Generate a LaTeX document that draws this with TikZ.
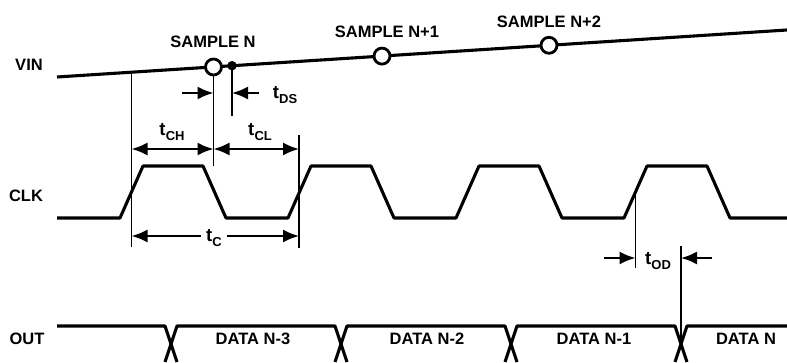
\documentclass[tikz,border=0pt]{standalone}
\usepackage{fontspec}
\setmainfont{Liberation Sans}
\usetikzlibrary{arrows.meta}
\newcommand{\tlab}[1]{t\kern0.2pt\raisebox{-0.5ex}{\fontsize{13}{13}\selectfont #1}}
\tikzset{
  wave/.style={line width=3.1pt, line join=round},
  thinline/.style={line width=1.1pt},
  dimarrow/.style={line width=2pt, -{Latex[length=16pt,width=13pt]}},
  dimboth/.style={line width=2pt, {Latex[length=16pt,width=13pt]}-{Latex[length=16pt,width=13pt]}},
  lbl/.style={font=\fontsize{16.5}{16.5}\selectfont\bfseries, inner sep=0pt},
  tl/.style={font=\fontsize{18.5}{18.5}\selectfont\bfseries, inner sep=1pt},
  smp/.style={circle, draw, line width=2.8pt, fill=white, minimum size=16pt, inner sep=0pt},
  dot/.style={circle, fill=black, minimum size=9.5pt, inner sep=0pt}
}
\begin{document}
\begin{tikzpicture}[x=1pt,y=-1pt]
\useasboundingbox (0,0) rectangle (787,363);
\clip (0,0) rectangle (787,363);
% ---------- VIN ----------
\node[lbl] (vinlab) at (29,65) {VIN};
\coordinate (v0) at (57,77);
\coordinate (v1) at (787,30);
\coordinate (vc) at (131.5,72.2);
\draw[wave] (v0) -- (v1);
\draw[thinline] (vc) -- (131.5,247);
\draw[thinline] (213.5,67) -- (213.5,166);
\draw[thinline] (232,70) -- (232,116);
\node[smp] (sn) at (213.5,67) {};
\node[dot] (sd) at (232,65.7) {};
\node[smp] (sn1) at (382,56.1) {};
\node[smp] (sn2) at (549,45.3) {};
\node[lbl] (lsn) at (213,42) {SAMPLE N};
\node[lbl] (lsn1) at (387,32) {SAMPLE N+1};
\node[lbl] (lsn2) at (549,22) {SAMPLE N+2};
% t_DS
\coordinate (dsa) at (182,93);
\coordinate (dsb) at (213.5,93);
\coordinate (dsc) at (259,93);
\coordinate (dsd) at (232,93);
\draw[dimarrow] (dsa) -- (dsb);
\draw[dimarrow] (dsc) -- (dsd);
\node[tl] (tds) at (285,95) {\tlab{DS}};
% ---------- CLK ----------
\node[lbl] (clklab) at (26,196) {CLK};
\draw[wave] (57,218) -- (120,218)
  \foreach \r in {120,288,456,624} {
    -- (\r,218) -- ({\r+23},166) -- ({\r+83},166) -- ({\r+106},218)
  } -- (787,218);
\draw[thinline] (299,135) -- (299,248);
\coordinate (cha) at (131.5,149);
\coordinate (chb) at (213.5,149);
\coordinate (clb) at (299,149);
\draw[dimboth] (cha) -- (chb);
\draw[dimboth] (chb) -- (clb);
\node[tl] (tch) at (172,132) {\tlab{CH}};
\node[tl] (tcl) at (260,132) {\tlab{CL}};
\coordinate (ca) at (131.5,236);
\coordinate (cb) at (299,236);
\draw[dimboth] (ca) -- (cb);
\node[tl, fill=white, inner xsep=5pt] (tc) at (214,238) {\tlab{C}};
% t_OD
\draw[thinline] (635.5,192) -- (635.5,268);
\draw[thinline] (681,246) -- (681,344);
\coordinate (oda) at (604,258);
\coordinate (odb) at (635.5,258);
\coordinate (odc) at (712,258);
\coordinate (odd) at (681,258);
\draw[dimarrow] (oda) -- (odb);
\draw[dimarrow] (odc) -- (odd);
\node[tl] (tod) at (658,261) {\tlab{OD}};
% ---------- OUT ----------
\node[lbl] (outlab) at (27,339) {OUT};
\draw[wave] (57,326) -- (165,326) -- (177,362);
\draw[wave] (165,362) -- (177,326) -- (335,326) -- (347,362);
\draw[wave] (335,362) -- (347,326) -- (505,326) -- (517,362);
\draw[wave] (505,362) -- (517,326) -- (675,326) -- (687,362);
\draw[wave] (675,362) -- (687,326) -- (787,326);
\draw[wave] (57,364.5) -- (787,364.5);
\node[lbl] (d3) at (253,339) {DATA N-3};
\node[lbl] (d2) at (427,339) {DATA N-2};
\node[lbl] (d1) at (594,339) {DATA N-1};
\node[lbl] (d0) at (746,339) {DATA N};
\end{tikzpicture}
\end{document}
